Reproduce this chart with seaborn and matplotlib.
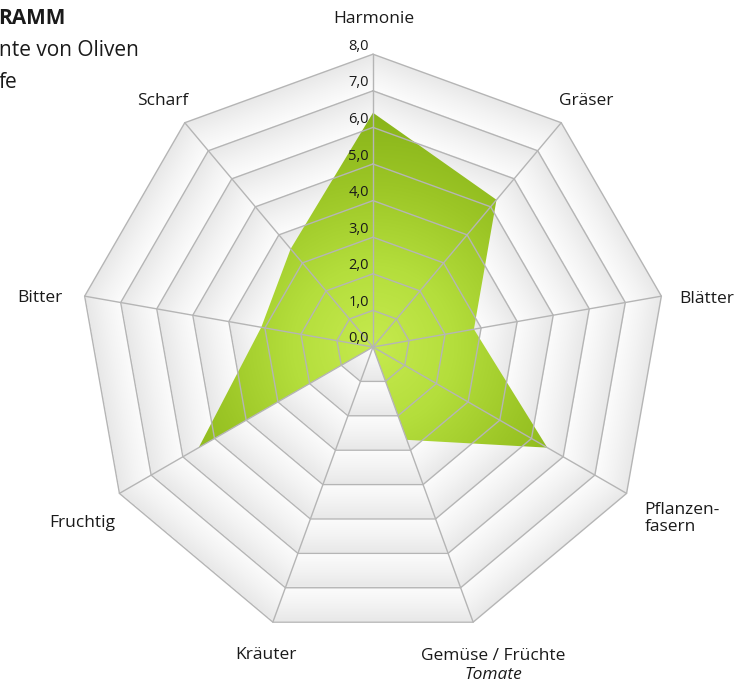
import matplotlib
matplotlib.use('Agg')
import matplotlib.pyplot as plt
import numpy as np
import seaborn as sns
from matplotlib.patches import Polygon

sns.set_theme(style='white')
plt.rcParams['font.family'] = ['Open Sans', 'DejaVu Sans']

# Aromaprofil (Skala 0-8)
attributes = ['Harmonie', 'Gräser', 'Blätter', 'Pflanzen-\nfasern', 'Gemüse / Früchte',
              'Kräuter', 'Fruchtig', 'Bitter', 'Scharf']
scores = [6.4, 5.25, 2.8, 5.5, 2.7, 0.0, 5.5, 3.1, 3.5]
tick_values = [0, 1, 2, 3, 4, 5, 6, 7, 8]
tick_labels = ['0,0', '1,0', '2,0', '3,0', '4,0', '5,0', '6,0', '7,0', '8,0']
title_lines = ['RAMM', 'nte von Oliven', 'fe']

n = len(attributes)
angles = np.arange(n) * 2 * np.pi / n
rmax = tick_values[-1]


def to_xy(r, a):
    return np.asarray(r) * np.sin(a), np.asarray(r) * np.cos(a)


fig = plt.figure(figsize=(7.37, 6.82), dpi=100)
ax = fig.add_axes([0, 0, 1, 1])
scale = 36.6  # px per Einheit
cx, cy = 373, 347
ax.set_xlim(-cx / scale, (737 - cx) / scale)
ax.set_ylim(-(682 - cy) / scale, cy / scale)
ax.axis('off')

# Feld fuer Verlaeufe
xs = np.linspace(-rmax - 0.2, rmax + 0.2, 700)
X, Y = np.meshgrid(xs, xs)
phi = np.mod(np.arctan2(X, Y), 2 * np.pi)
sector = np.floor(phi / (2 * np.pi / n))
phi_mid = (sector + 0.5) * 2 * np.pi / n
t_poly = np.hypot(X, Y) * np.cos(phi - phi_mid) / np.cos(np.pi / n)
extent = [xs[0], xs[-1], xs[0], xs[-1]]

# Hintergrundringe mit leichtem Verlauf
ox, oy = to_xy(np.full(n, rmax), angles)
outer = Polygon(np.column_stack([ox, oy]), closed=True, facecolor='none', edgecolor='none')
ax.add_patch(outer)
band_cmap = sns.blend_palette(['#fcfcfc', '#f3f3f3', '#e8e8e8'], as_cmap=True)
band = np.mod(t_poly, 1.0)
im = ax.imshow(band, extent=extent, origin='lower', cmap=band_cmap, vmin=0, vmax=1,
               interpolation='bilinear', zorder=0)
im.set_clip_path(outer)

# Datenflaeche mit radialem Gruen-Verlauf
dx, dy = to_xy(scores, angles)
area = Polygon(np.column_stack([dx, dy]), closed=True, facecolor='none', edgecolor='none')
ax.add_patch(area)
green_cmap = sns.blend_palette(['#c6ea4e', '#b4de3c', '#9cc626', '#86b218'], as_cmap=True)
gim = ax.imshow(np.hypot(X, Y), extent=extent, origin='lower', cmap=green_cmap,
                vmin=0, vmax=6.6, interpolation='bilinear', zorder=1)
gim.set_clip_path(area)

# Gitternetz
grid_color = '#b5b5b5'
for v in tick_values[1:]:
    gx, gy = to_xy(np.full(n + 1, v), np.append(angles, angles[0]))
    ax.plot(gx, gy, color=grid_color, lw=1.0, zorder=2)
for a in angles:
    sx, sy = to_xy([0, rmax], [a, a])
    ax.plot(sx, sy, color=grid_color, lw=1.0, zorder=2)

# Skalenbeschriftung an der Harmonie-Achse
for v, lab in zip(tick_values, tick_labels):
    ax.annotate(lab, (0, v), xytext=(-4, 8), textcoords='offset pixels',
                ha='right', va='center', fontsize=10.5, color='#1a1a1a',
                family=['Liberation Sans Narrow', 'Open Sans'], zorder=3)

# Achsenbeschriftungen: Versatz zur aeusseren Ecke (Pixel) und Ausrichtung
label_offsets = [(1, 35, 'center'), (25, 22, 'center'), (18, -3, 'left'),
                 (18, -25, 'left'), (20, -34, 'center'), (-7, -33, 'center'),
                 (-4, -30, 'right'), (-22, -2, 'right'), (-22, 22, 'center')]
for lab, a, (ox_, oy_, ha) in zip(attributes, angles, label_offsets):
    vx, vy = to_xy(rmax, a)
    ax.annotate(lab, (vx, vy), xytext=(ox_, oy_), textcoords='offset pixels',
                ha=ha, va='center', fontsize=12.5, color='#1a1a1a', linespacing=1.05)
    if lab.startswith('Gemüse'):
        ax.annotate('Tomate', (vx, vy), xytext=(ox_, oy_ - 19), textcoords='offset pixels',
                    ha='center', va='center', fontsize=12.5, color='#1a1a1a', style='italic')

# Titel (links angeschnitten)
fig.text(-0.002, 1 - 19 / 682, title_lines[0], ha='left', va='center', fontsize=15,
         fontweight='bold', color='#1a1a1a')
fig.text(-0.002, 1 - 51 / 682, title_lines[1], ha='left', va='center', fontsize=15,
         color='#1a1a1a')
fig.text(-0.002, 1 - 83 / 682, title_lines[2], ha='left', va='center', fontsize=15,
         color='#1a1a1a')

fig.savefig('out.png', dpi=100)
